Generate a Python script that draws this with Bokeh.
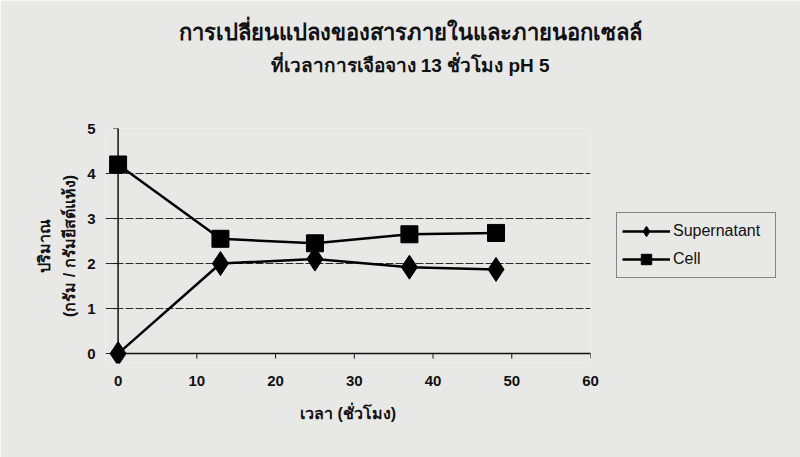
import math
from bokeh.plotting import figure
from bokeh.models import Legend, LegendItem, ColumnDataSource, FixedTicker, Title
from bokeh.embed import file_html
from bokeh.resources import INLINE

# ---- data ----
hours = [0, 13, 25, 37, 48]
supernatant = [0.0, 2.0, 2.1, 1.92, 1.87]
cell = [4.2, 2.55, 2.45, 2.65, 2.68]
x_ticks = [0, 10, 20, 30, 40, 50, 60]
y_ticks = [0, 1, 2, 3, 4, 5]
title_lines = ["การเปลี่ยนแปลงของสารภายในและภายนอกเซลล์", "ที่เวลาการเจือจาง 13 ชั่วโมง pH 5"]
y_title = "ปริมาณ\n(กรัม / กรัมยีสต์แห้ง)"
x_title = "เวลา (ชั่วโมง)"
series_names = ["Supernatant", "Cell"]

FONT = "Liberation Sans"
BG = "#e8e8e6"
INK = "#111111"

p = figure(frame_width=485, frame_height=235, output_backend="svg", toolbar_location=None,
           x_range=(-1.6, 60), y_range=(-0.22, 5), title=None,
           min_border_left=105, min_border_right=0, min_border_top=128, min_border_bottom=94)
p.background_fill_color = BG
p.border_fill_color = BG
p.outline_line_color = None

p.xaxis.ticker = FixedTicker(ticks=x_ticks)
p.yaxis.ticker = FixedTicker(ticks=y_ticks)
for ax in (p.xaxis[0], p.yaxis[0]):
    ax.axis_line_color = None
    ax.major_tick_line_color = None
    ax.minor_tick_line_color = None
    ax.major_label_text_font = FONT
    ax.major_label_text_font_style = "bold"
    ax.major_label_text_font_size = "15px"
    ax.major_label_text_color = INK
    ax.axis_label_text_font = FONT
    ax.axis_label_text_font_style = "bold"
    ax.axis_label_text_font_size = "16px"
    ax.axis_label_text_color = INK
p.xaxis.major_label_standoff = 6
p.yaxis.major_label_standoff = 4
p.xaxis.axis_label = x_title
p.xaxis.axis_label_standoff = 16
p.yaxis.axis_label = y_title
p.yaxis.axis_label_standoff = 6
p.yaxis.axis_label_text_line_height = 1.5

p.xgrid.grid_line_color = None
p.ygrid.grid_line_color = "#2a2a2a"
p.ygrid.grid_line_dash = "8 2"
p.ygrid.grid_line_width = 1

# axis lines through the origin and outward tick marks
p.ray(x=[x_ticks[0]], y=[y_ticks[0]], length=0, angle=0, line_color=INK, line_width=1.5)
p.ray(x=[x_ticks[0]], y=[y_ticks[0]], length=0, angle=math.pi / 2, line_color=INK, line_width=1.5)
p.ray(x=x_ticks, y=[y_ticks[0]] * len(x_ticks), length=5, length_units="screen",
      angle=-math.pi / 2, line_color=INK, line_width=1)
p.ray(x=[x_ticks[0]] * len(y_ticks), y=y_ticks, length=5, length_units="screen",
      angle=math.pi, line_color=INK, line_width=1)

src = ColumnDataSource(dict(x=hours, s=supernatant, c=cell))
l1 = p.line("x", "s", source=src, line_color="black", line_width=2.5)
m1 = p.scatter("x", "s", source=src, marker="diamond", size=24, color="black")
l2 = p.line("x", "c", source=src, line_color="black", line_width=2.5)
m2 = p.scatter("x", "c", source=src, marker="square", size=17, color="black")

legend = Legend(items=[LegendItem(label=series_names[0], renderers=[l1, m1]),
                       LegendItem(label=series_names[1], renderers=[l2, m2])],
                location=(26, 85), background_fill_color=BG, background_fill_alpha=1,
                border_line_color="#222222", border_line_width=1,
                label_text_font=FONT, label_text_font_size="16px",
                label_text_color=INK, glyph_width=48, glyph_height=26, spacing=2,
                padding=5, margin=26, label_standoff=3, label_width=97)
p.add_layout(legend, "right")

# two-line chart title (first added sits nearest the plot)
t2 = Title(text=title_lines[1], align="left", offset=165, standoff=105,
           text_font=FONT, text_font_style="bold", text_font_size="19px", text_color=INK)
t1 = Title(text=title_lines[0], align="left", offset=73, standoff=-88,
           text_font=FONT, text_font_style="bold", text_font_size="22px", text_color=INK)
p.add_layout(t2, "above")
p.add_layout(t1, "above")

open("out.html", "w").write(file_html(p, INLINE))
